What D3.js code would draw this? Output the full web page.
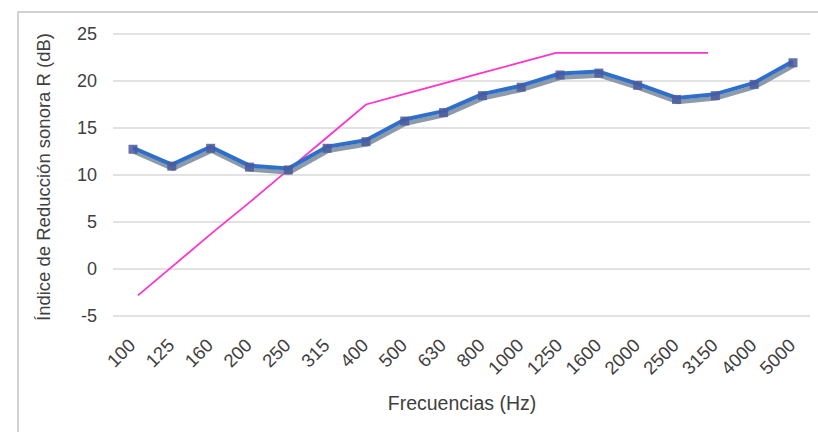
<!DOCTYPE html>
<html>
<head>
<meta charset="utf-8">
<script src="https://cdn.jsdelivr.net/npm/d3@7"></script>
<style>
  html, body { margin: 0; padding: 0; background: #fff; }
  svg { display: block; font-family: "Liberation Sans", Arial, sans-serif; }
</style>
</head>
<body>
<div id="chart"></div>
<script>
// Frequency bands (Hz)
const frequencies = ["100", "125", "160", "200", "250", "315", "400", "500", "630", "800",
  "1000", "1250", "1600", "2000", "2500", "3150", "4000", "5000"]
// Measured sound reduction index R (dB)
const measured = [12.9, 11.1, 13.0, 11.0, 10.7, 13.0, 13.7, 15.9, 16.8, 18.6,
  19.5, 20.8, 21.0, 19.7, 18.2, 18.6, 19.8, 22.1]
// Reference curve, 100 - 3150 Hz
const refFrequencies = frequencies.slice(0, 16)
const reference = [-2.8, 0.6, 4.0, 7.3, 10.7, 14.1, 17.5, 18.6, 19.7, 20.8,
  21.9, 23.0, 23.0, 23.0, 23.0, 23.0]
const yTicks = [-5, 0, 5, 10, 15, 20, 25]

const width = 818, height = 432
const textColor = "#404040"

const svg = d3.select("#chart").append("svg")
  .attr("width", width).attr("height", height)

// outer frame
svg.append("rect")
  .attr("x", 18).attr("y", 12).attr("width", 820).attr("height", 440)
  .attr("fill", "#fff").attr("stroke", "#c4c4c4").attr("stroke-width", 1.5)

const x = d3.scaleBand().domain(frequencies).range([113.6, 812.4])
const xc = d => x(d) + x.bandwidth() / 2
const y = d3.scaleLinear().domain([-5, 25]).range([316, 34])
// reference series sits on its own (secondary) category axis
const x2 = d3.scalePoint().domain(refFrequencies).range([138, 708])

// gridlines
svg.append("g")
  .selectAll("line")
  .data(yTicks)
  .join("line")
  .attr("x1", 113).attr("x2", 810)
  .attr("y1", d => y(d)).attr("y2", d => y(d))
  .attr("stroke", "#d9d9d9").attr("stroke-width", 1.5)

// y axis labels
svg.append("g")
  .attr("transform", "translate(97,0)")
  .call(d3.axisLeft(y).tickValues(yTicks).tickFormat(d => String(d)).tickSize(0).tickPadding(0))
  .call(g => g.select(".domain").remove())
  .call(g => g.selectAll(".tick text")
    .attr("font-size", 18).attr("fill", textColor)
    .attr("font-family", "Liberation Sans, Arial, sans-serif"))

// x axis labels, rotated
svg.append("g")
  .selectAll("text")
  .data(frequencies)
  .join("text")
  .attr("transform", d => `translate(${xc(d) - 1},${342}) rotate(-45)`)
  .attr("text-anchor", "end")
  .attr("dy", "0.35em")
  .attr("font-size", 18.5).attr("fill", textColor)
  .text(d => d)

// axis titles
svg.append("text")
  .attr("x", 462).attr("y", 410)
  .attr("text-anchor", "middle").attr("font-size", 19.5).attr("fill", textColor)
  .text("Frecuencias (Hz)")
svg.append("text")
  .attr("transform", "translate(50,177) rotate(-90)")
  .attr("text-anchor", "middle").attr("font-size", 18.5).attr("fill", textColor)
  .text("Índice de Reducción sonora R (dB)")

// reference curve
const refLine = d3.line().x(d => x2(d[0])).y(d => y(d[1]))
svg.append("path")
  .datum(refFrequencies.map((f, i) => [f, reference[i]]))
  .attr("d", refLine)
  .attr("fill", "none").attr("stroke", "#ff33cc").attr("stroke-width", 1.8)

// measured series, with shadow
const pts = frequencies.map((f, i) => [f, measured[i]])
const line = d3.line().x(d => xc(d[0])).y(d => y(d[1]))
svg.append("path")
  .datum(pts).attr("d", line)
  .attr("transform", "translate(1,4)")
  .attr("fill", "none").attr("stroke", "#8d9aaa").attr("stroke-width", 4.5)
  .attr("stroke-linejoin", "round")
svg.append("path")
  .datum(pts).attr("d", line)
  .attr("fill", "none").attr("stroke", "#2f6fcc").attr("stroke-width", 4)
  .attr("stroke-linejoin", "round")

svg.append("g")
  .selectAll("rect")
  .data(pts)
  .join("rect")
  .attr("x", d => xc(d[0]) - 4.5).attr("y", d => y(d[1]) - 3)
  .attr("width", 9).attr("height", 9)
  .attr("fill", "#4a5a9e").attr("opacity", 0.85)
</script>
</body>
</html>
